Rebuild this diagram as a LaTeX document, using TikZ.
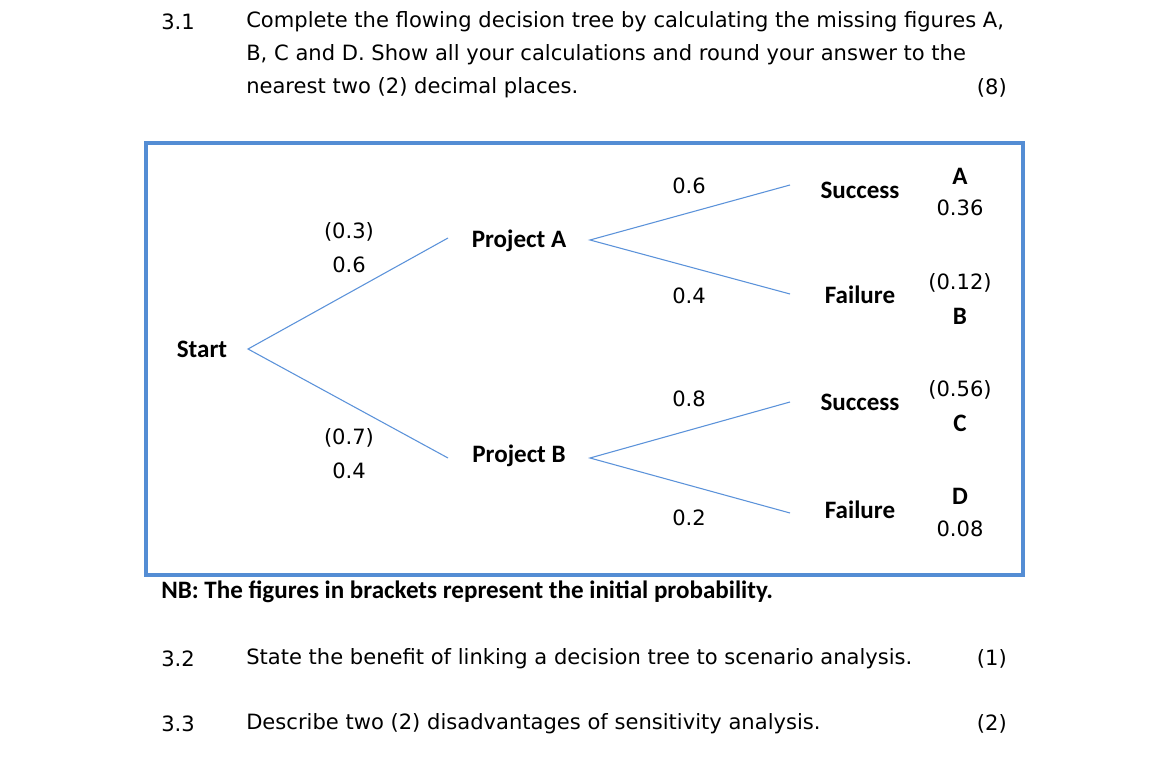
\documentclass[tikz,border=0pt]{standalone}
\usepackage{fontspec}
\setmainfont{DejaVu Sans}
\newfontfamily\lbl{Carlito}
\definecolor{boxblue}{RGB}{84,141,212}
\definecolor{lineblue}{RGB}{91,146,218}
\begin{document}
\begin{tikzpicture}[x=0.75pt,y=-0.75pt,
  txt/.style={font=\fontsize{15.8pt}{18pt}\selectfont,inner sep=0pt},
  bl/.style={font=\lbl\bfseries\fontsize{18.8pt}{21pt}\selectfont,inner sep=0pt},
  br/.style={line width=0.8pt,draw=lineblue}]
\useasboundingbox[fill=white] (0,0) rectangle (1156,762);
\node[txt] (n31) at (178,22) {3.1};
\node[txt,anchor=west] (p1) at (246,22) {Complete the flowing decision tree by calculating the missing figures A,};
\node[txt,anchor=west] (p2) at (246,55) {B, C and D. Show all your calculations and round your answer to the};
\node[txt,anchor=west] (p3) at (246,88) {nearest two (2) decimal places.};
\node[txt,anchor=east] (m8) at (1007,88) {(8)};
\draw[draw=boxblue,line width=3pt] (146,143) rectangle (1023,575);
\node[bl] (start) at (202,349) {Start};
\node[bl] (pa) at (519,241) {Project A};
\node[bl] (pb) at (519,456) {Project B};
\node[bl] (s1) at (860,190) {Success};
\node[bl] (f1) at (860,295) {Failure};
\node[bl] (s2) at (860,402) {Success};
\node[bl] (f2) at (860,510) {Failure};
\coordinate (st) at (248,349);
\coordinate (pai) at (448,238); \coordinate (pao) at (590,240);
\coordinate (pbi) at (448,458); \coordinate (pbo) at (590,458);
\coordinate (s1i) at (790,185); \coordinate (f1i) at (790,294);
\coordinate (s2i) at (790,402); \coordinate (f2i) at (790,513);
\draw[br] (pai) -- (st) -- (pbi);
\draw[br] (s1i) -- (pao) -- (f1i);
\draw[br] (s2i) -- (pbo) -- (f2i);
\node[txt] (a03) at (349,232) {(0.3)};
\node[txt] (a06) at (349,265) {0.6};
\node[txt] (a07) at (349,438) {(0.7)};
\node[txt] (a04) at (349,471) {0.4};
\node[txt] (b06) at (689,186) {0.6};
\node[txt] (b04) at (689,296) {0.4};
\node[txt] (b08) at (689,399) {0.8};
\node[txt] (b02) at (689,518) {0.2};
\node[bl] (lA) at (960,176) {A};
\node[txt] (vA) at (960,208) {0.36};
\node[txt] (vB0) at (960,283) {(0.12)};
\node[bl] (lB) at (960,316) {B};
\node[txt] (vC0) at (960,390) {(0.56)};
\node[bl] (lC) at (960,423) {C};
\node[bl] (lD) at (960,496) {D};
\node[txt] (vD) at (960,529) {0.08};
\node[bl,anchor=west] (nb) at (161,592) {NB: The figures in brackets represent the initial probability.};
\node[txt] (n32) at (178,659) {3.2};
\node[txt,anchor=west] (q2) at (246,659) {State the benefit of linking a decision tree to scenario analysis.};
\node[txt,anchor=east] (m1) at (1007,659) {(1)};
\node[txt] (n33) at (178,724) {3.3};
\node[txt,anchor=west] (q3) at (246,724) {Describe two (2) disadvantages of sensitivity analysis.};
\node[txt,anchor=east] (m2) at (1007,724) {(2)};
\end{tikzpicture}
\end{document}
